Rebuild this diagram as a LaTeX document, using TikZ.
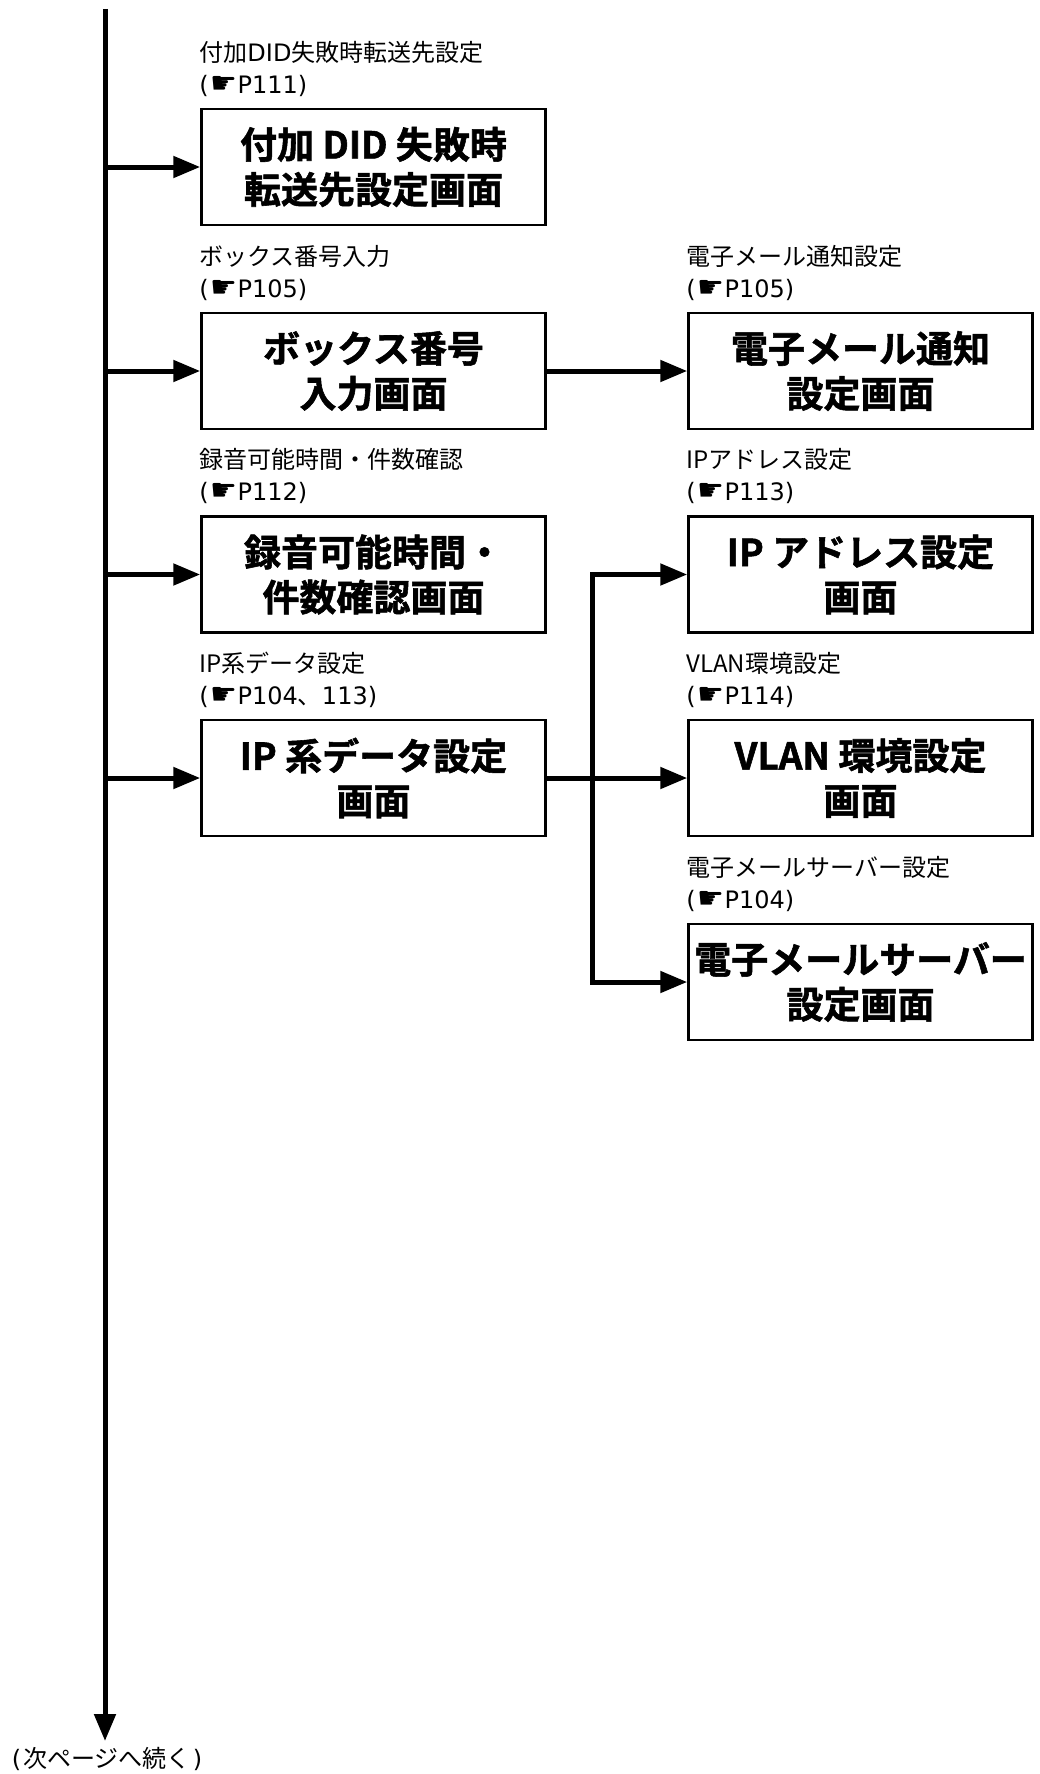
\documentclass[tikz,border=0pt]{standalone}
\usepackage{fontspec}
\setmainfont{Noto Sans CJK JP}
\newfontfamily\symfont{DejaVu Sans}
\newfontfamily\heavyfont{Noto Sans CJK JP}[UprightFont={* Bold}, FakeBold=1.5]
\usetikzlibrary{arrows.meta}
\newcommand{\pref}[1]{{\symfont (\hspace{2pt}{\fontsize{30}{32}\selectfont ☛}#1)}}
\begin{document}
\begin{tikzpicture}[x=1pt,y=-1pt,
  box/.style={draw, line width=2.5pt, minimum width=344pt, minimum height=116pt,
    inner sep=0pt, align=center, font=\fontsize{37}{45}\selectfont\heavyfont},
  lbl/.style={anchor=west, align=left, inner sep=0pt, font=\fontsize{24}{32}\selectfont},
  conn/.style={line width=5pt},
  arr/.style={line width=5pt, -{Triangle[length=27pt,width=21pt]}},
  arrtwo/.style={line width=5pt, line join=miter, {Triangle[length=27pt,width=21pt]}-{Triangle[length=27pt,width=21pt]}}]
\fill[white] (0,0) rectangle (1040,1774);
\useasboundingbox (0,0) rectangle (1040,1774);

% boxes
\node[box] (b1) at (373.5,167) {付加 DID 失敗時\\転送先設定画面};
\node[box] (b2) at (373.5,371) {ボックス番号\\入力画面};
\node[box] (b3) at (373.5,574.5) {録音可能時間・\\件数確認画面};
\node[box] (b4) at (373.5,778) {IP 系データ設定\\画面};
\node[box] (r2) at (860.5,371) {電子メール通知\\設定画面};
\node[box] (r3) at (860.5,574.5) {IP アドレス設定\\画面};
\node[box] (r4) at (860.5,778) {VLAN 環境設定\\画面};
\node[box] (r5) at (860.5,982) {電子メールサーバー\\設定画面};

% labels
\node[lbl] (l1) at ([xshift=-1pt,yshift=39pt]b1.north west) {付加{\symfont DID}失敗時転送先設定\\\pref{P111}};
\node[lbl] (l2) at ([xshift=-1pt,yshift=39pt]b2.north west) {ボックス番号入力\\\pref{P105}};
\node[lbl] (l3) at ([xshift=-1pt,yshift=39pt]b3.north west) {録音可能時間・件数確認\\\pref{P112}};
\node[lbl] (l4) at ([xshift=-1pt,yshift=39pt]b4.north west) {IP系データ設定\\{\symfont (\hspace{2pt}{\fontsize{30}{32}\selectfont ☛}P104}、{\symfont 113)}};
\node[lbl] (m2) at ([xshift=-1pt,yshift=39pt]r2.north west) {電子メール通知設定\\\pref{P105}};
\node[lbl] (m3) at ([xshift=-1pt,yshift=39pt]r3.north west) {IPアドレス設定\\\pref{P113}};
\node[lbl] (m4) at ([xshift=-1pt,yshift=39pt]r4.north west) {VLAN環境設定\\\pref{P114}};
\node[lbl] (m5) at ([xshift=-1pt,yshift=39pt]r5.north west) {電子メールサーバー設定\\\pref{P104}};

\node[inner sep=0pt, font=\fontsize{24}{32}\selectfont] (cont) at (107,1759) {{\symfont (}\hspace{2pt}次ページへ続く\hspace{2pt}{\symfont )}};

% connectors
\coordinate (top) at (105,9);
\coordinate (bot) at (105,1741);
\coordinate (jx) at (592,778);
\draw[arr] (top) -- (bot);
\foreach \b in {b1,b2,b3,b4} \draw[arr] (top |- \b) -- (\b.west);
\draw[arr] (b2.east) -- (r2.west);
\draw[conn] (b4.east) -- (jx);
\draw[arrtwo] (r3.west) -- (jx |- r3) -- (jx |- r5) -- (r5.west);
\draw[arr] (jx) -- (r4.west);
\end{tikzpicture}
\end{document}
